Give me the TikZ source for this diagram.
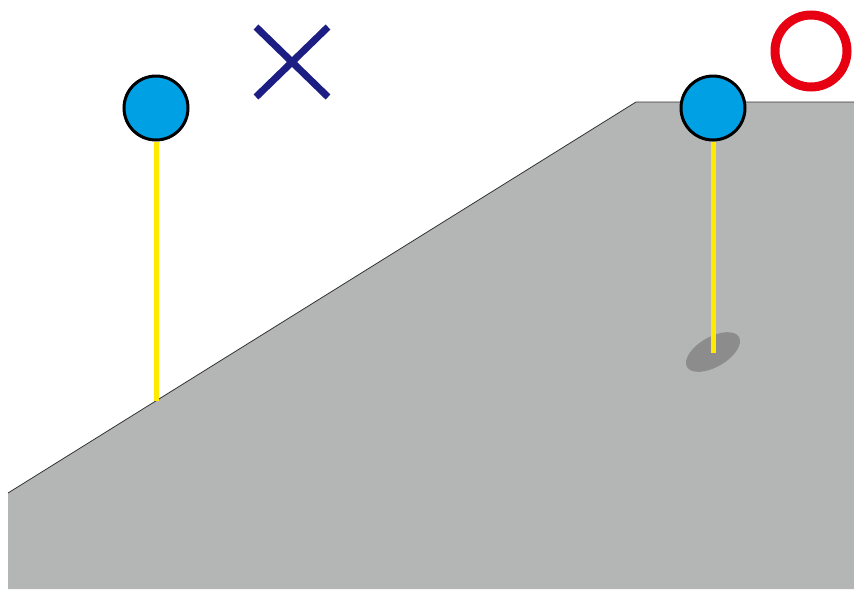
\documentclass[tikz,border=0pt]{standalone}
\definecolor{ground}{HTML}{B4B5B5}
\definecolor{pinblue}{HTML}{00A0E4}
\definecolor{stickyellow}{HTML}{FFEA00}
\definecolor{shadowgray}{HTML}{8C8C8C}
\definecolor{navy}{HTML}{1D1E84}
\definecolor{okred}{HTML}{E60012}
\tikzset{
  pinhead/.style={circle, draw=black, line width=3pt, fill=pinblue, minimum size=64pt, inner sep=0pt},
  stick/.style={draw=stickyellow, line width=5pt},
}
\begin{document}
\begin{tikzpicture}[x=1pt,y=-1pt]
\useasboundingbox (0,0) rectangle (854,590);
% ground
\fill[ground] (8,493) -- (636,102) -- (854,102) -- (854,589) -- (8,589) -- cycle;
\draw[black!80, line width=0.8pt] (8,493) -- (636,102) -- (854,102);
% right pin shadow
\fill[shadowgray] (713,352) ellipse [x radius=30, y radius=15, rotate=30];
% left pin
\coordinate (lbase) at (156,401);
\node[pinhead] (lhead) at (156,108) {};
\draw[stick] (lhead.south) -- (lbase);
% right pin
\coordinate (rbase) at (713,353);
\node[pinhead] (rhead) at (713,108) {};
\draw[stick] (rhead.south) -- (rbase);
% cross
\coordinate (xa) at (256,27);
\coordinate (xb) at (328,97);
\coordinate (xc) at (328,27);
\coordinate (xd) at (256,97);
\draw[navy, line width=7pt] (xa) -- (xb) (xc) -- (xd);
% circle mark
\node[circle, draw=okred, line width=9pt, minimum size=72pt, inner sep=0pt] (ok) at (811,51) {};
\end{tikzpicture}
\end{document}
